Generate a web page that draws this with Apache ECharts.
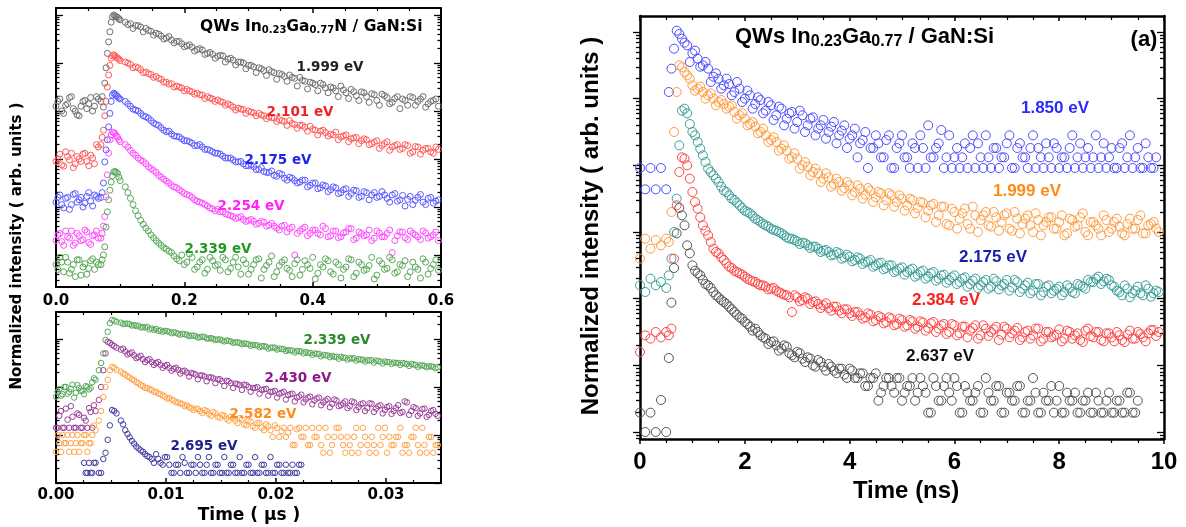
<!DOCTYPE html>
<html><head><meta charset="utf-8">
<script src="https://cdn.jsdelivr.net/npm/echarts@6/dist/echarts.min.js"></script>
<style>html,body{margin:0;padding:0;background:#fff}#c{width:1186px;height:527px}</style>
</head><body><div id="c"></div>
<script>
// ---------- RIGHT PANEL: time (ns) and log10 intensity (decades) ----------
const timeNs = [0,0.1,0.2,0.3,0.4,0.5,0.55,0.6,0.65,0.7,
 0.75,0.8,0.85,0.9,1.0,1.1,1.2,1.3,1.4,1.5,
 1.6,1.7,1.8,1.9,2.0,2.1,2.2,2.3,2.4,2.5,
 2.6,2.7,2.8,2.9,3.0,3.1,3.2,3.3,3.4,3.5,
 3.6,3.7,3.8,3.9,4.0,4.1,4.2,4.3,4.4,4.5,
 4.6,4.7,4.8,4.9,5.0,5.1,5.2,5.3,5.4,5.5,
 5.6,5.7,5.8,5.9,6.0,6.1,6.2,6.3,6.4,6.5,
 6.6,6.7,6.8,6.9,7.0,7.1,7.2,7.3,7.4,7.5,
 7.6,7.7,7.8,7.9,8.0,8.1,8.2,8.3,8.4,8.5,
 8.6,8.7,8.8,8.9,9.0,9.1,9.2,9.3,9.4,9.5,
 9.6,9.7,9.8,9.9];
const timeNsB = [0.95,1.05,1.15,1.25,1.35,1.45,1.55,1.65,1.75,1.85,
 1.95,2.05,2.15,2.25,2.35,2.45,2.55,2.65,2.75,2.85,
 2.95,3.05,3.15,3.25,3.35,3.45,3.55,3.65,3.75,3.85,
 3.95,4.05,4.15,4.25,4.35,4.45,4.55,4.65,4.75,4.85,
 4.95,5.05,5.15,5.25,5.35,5.45,5.55,5.65,5.75,5.85,
 5.95,6.05,6.15,6.25,6.35,6.45,6.55,6.65,6.75,6.85,
 6.95,7.05,7.15,7.25,7.35,7.45,7.55,7.65,7.75,7.85,
 7.95,8.05,8.15,8.25,8.35,8.45,8.55,8.65,8.75,8.85,
 8.95,9.05,9.15,9.25,9.35,9.45,9.55,9.65,9.75,9.85];
const r1850 = [3.96,3.64,3.96,3.64,3.96,3.64,5.1,5.45,5.75,6.02,
 5.97,5.9,5.84,5.8,5.68,5.6,5.5,5.45,5.33,5.3,
 5.2,5.22,5.1,5.15,5.0,5.05,4.92,4.98,4.82,4.9,
 4.75,4.85,4.7,4.8,4.65,4.75,4.6,4.72,4.55,4.68,
 4.5,4.65,4.45,4.6,4.4,4.55,4.33,4.5,4.26,4.45,
 4.12,4.38,3.96,4.26,4.45,4.12,4.33,3.96,4.26,4.6,
 4.12,4.33,3.96,4.45,4.12,3.96,4.33,4.26,3.96,4.12,
 4.45,3.96,4.26,4.12,4.33,3.96,4.26,4.12,3.96,4.45,
 4.26,3.96,4.12,4.33,3.96,4.12,4.26,3.96,4.33,4.12,
 3.96,4.45,4.12,3.96,4.26,3.96,4.33,4.12,3.96,4.26,
 3.96,4.12,3.96,null];
const r1850b = [5.55,5.72,5.48,5.55,5.25,5.38,5.15,5.3,5.05,5.25,
 4.95,5.12,4.85,5.02,4.78,4.95,4.68,4.88,4.6,4.78,
 4.55,4.82,4.5,4.7,4.45,4.6,4.4,4.58,4.33,4.52,
 4.26,4.45,4.12,4.38,3.96,4.26,4.33,4.12,4.45,3.96,
 4.33,4.12,3.96,4.26,4.45,3.96,4.12,4.26,4.53,4.12,
 3.96,4.26,4.12,3.96,4.45,4.33,3.96,4.12,4.26,3.96,
 4.12,4.45,3.96,4.33,4.12,4.26,3.96,4.12,4.33,3.96,
 4.26,4.12,3.96,4.45,4.12,3.96,4.26,4.12,3.96,4.33,
 4.12,3.96,4.26,3.96,4.45,4.12,3.96,4.33,3.96,4.12];
const r1999 = [2.6,2.9,2.75,2.88,2.8,2.9,2.85,3.3,4.5,5.1,
 5.5,5.47,5.4,5.35,5.2,5.15,5.1,5.05,5.0,4.95,
 4.92,4.88,4.8,4.75,4.7,4.62,4.58,4.5,4.45,4.38,
 4.35,4.25,4.22,4.12,4.1,4.0,3.98,3.9,3.88,3.8,
 3.82,3.72,3.75,3.66,3.7,3.6,3.65,3.56,3.62,3.52,
 3.58,3.48,3.55,3.45,3.5,3.4,3.48,3.36,3.44,3.32,
 3.42,3.25,3.38,3.1,3.3,3.2,3.35,3.05,3.25,3.18,
 3.3,3.08,3.22,3.15,3.28,3.02,3.2,3.12,3.25,3.0,
 3.18,3.1,3.22,3.05,3.15,2.95,3.2,3.08,3.22,3.0,
 3.15,3.1,2.95,3.18,3.05,3.2,2.98,3.12,3.05,3.18,
 2.98,3.1,3.15,3.0];
const r1999b = [5.3,5.12,5.18,5.0,5.08,4.9,4.98,4.85,4.9,4.7,
 4.78,4.6,4.65,4.48,4.55,4.35,4.42,4.22,4.3,4.1,
 4.18,3.95,4.05,3.85,3.95,3.75,3.88,3.68,3.8,3.62,
 3.75,3.55,3.7,3.5,3.66,3.45,3.6,3.4,3.58,3.38,
 3.55,3.32,3.5,3.28,3.45,3.22,3.4,3.15,3.38,3.12,
 3.35,3.05,3.28,3.12,3.38,3.0,3.25,3.1,3.3,3.02,
 3.25,3.05,3.3,2.98,3.2,3.1,3.28,2.95,3.15,3.22,
 3.05,3.25,2.98,3.18,3.1,3.28,2.95,3.15,3.05,3.25,
 3.0,3.15,3.08,2.95,3.2,3.05,3.25,2.98,3.12,3.05];
const r2175 = [2.2,2.1,2.3,2.2,2.25,2.16,2.35,2.6,3.0,3.5,
 4.3,4.82,4.85,4.78,4.5,4.35,4.15,3.95,3.85,3.75,
 3.62,3.55,3.48,3.4,3.32,3.28,3.2,3.15,3.1,3.05,
 3.02,2.98,2.92,2.9,2.86,2.84,2.8,2.78,2.75,2.72,
 2.7,2.66,2.68,2.62,2.63,2.58,2.6,2.55,2.58,2.5,
 2.54,2.46,2.5,2.42,2.47,2.4,2.45,2.36,2.42,2.33,
 2.4,2.3,2.36,2.28,2.35,2.25,2.32,2.22,2.3,2.2,
 2.28,2.18,2.26,2.2,2.28,2.17,2.25,2.15,2.24,2.12,
 2.22,2.1,2.2,2.12,2.18,2.1,2.16,2.08,2.2,2.15,
 2.25,2.3,2.22,2.3,2.2,2.12,2.05,2.15,2.08,2.18,
 2.05,2.15,2.08,2.1];
const r2175b = [4.62,4.45,4.25,4.05,3.9,3.8,3.68,3.6,3.5,3.44,
 3.36,3.3,3.24,3.18,3.12,3.08,3.03,3.0,2.95,2.9,
 2.88,2.82,2.83,2.76,2.78,2.7,2.73,2.65,2.7,2.6,
 2.66,2.56,2.62,2.52,2.56,2.48,2.53,2.44,2.5,2.4,
 2.45,2.36,2.43,2.33,2.4,2.3,2.38,2.27,2.35,2.24,
 2.32,2.22,2.3,2.18,2.27,2.16,2.25,2.15,2.3,2.14,
 2.22,2.12,2.28,2.1,2.2,2.08,2.22,2.05,2.18,2.08,
 2.15,2.05,2.2,2.1,2.22,2.18,2.28,2.25,2.33,2.26,
 2.28,2.18,2.1,2.2,2.02,2.12,2.08,2.2,2.03,2.12];
const r2384 = [1.2,1.45,1.4,1.5,1.42,1.5,1.45,1.55,2.6,3.4,
 3.9,4.12,4.1,4.0,3.6,3.35,3.1,2.95,2.75,2.68,
 2.58,2.48,2.42,2.38,2.33,2.28,2.25,2.2,2.18,2.15,
 2.12,2.08,2.05,1.8,2.02,1.98,2.0,1.95,1.92,1.9,
 1.86,1.88,1.82,1.84,1.78,1.8,1.75,1.72,1.76,1.68,
 1.72,1.65,1.7,1.62,1.68,1.6,1.66,1.58,1.64,1.56,
 1.65,1.55,1.62,1.5,1.6,1.48,1.58,1.52,1.6,1.45,
 1.55,1.5,1.58,1.46,1.55,1.48,1.56,1.42,1.52,1.45,
 1.55,1.4,1.5,1.44,1.54,1.4,1.5,1.45,1.38,1.52,
 1.44,1.5,1.38,1.48,1.42,1.5,1.38,1.46,1.4,1.5,
 1.42,1.48,1.53,1.5];
const r2384b = [3.8,3.45,3.22,3.02,2.85,2.7,2.62,2.53,2.46,2.4,
 2.36,2.3,2.26,2.22,2.2,2.14,2.16,2.1,2.06,2.02,
 2.05,1.96,2.02,1.92,1.96,1.86,1.93,1.82,1.88,1.78,
 1.84,1.74,1.8,1.7,1.78,1.66,1.74,1.63,1.72,1.6,
 1.7,1.58,1.68,1.55,1.66,1.52,1.63,1.5,1.6,1.47,
 1.62,1.45,1.58,1.42,1.56,1.4,1.6,1.44,1.54,1.38,
 1.58,1.42,1.52,1.38,1.5,1.4,1.55,1.36,1.5,1.42,
 1.46,1.36,1.52,1.4,1.48,1.35,1.55,1.42,1.5,1.36,
 1.48,1.36,1.45,1.35,1.52,1.4,1.47,1.36,1.53,1.44];
const r2637 = [0.29,0,0.29,0,0.48,0,1.11,1.94,2.46,2.98,
 3.36,3.25,3.1,2.8,2.5,2.38,2.28,2.2,2.1,2.02,
 1.95,1.88,1.8,1.72,1.65,1.58,1.55,1.45,1.4,1.35,
 1.3,1.25,1.28,1.15,1.2,1.1,1.12,1.0,1.08,0.98,
 1.02,0.92,0.95,0.86,0.95,0.81,0.88,0.69,0.81,0.88,
 0.59,0.81,0.69,0.81,0.47,0.69,0.81,0.59,0.69,0.29,
 0.81,0.47,0.69,0.59,0.81,0.29,0.69,0.47,0.59,0.29,
 0.81,0.47,0.69,0.29,0.59,0.47,0.69,0.29,0.47,0.81,
 0.29,0.59,0.47,0.29,0.69,0.29,0.47,0.59,0.29,0.47,
 0.29,0.59,0.29,0.47,0.29,0.47,0.29,0.59,0.29,0.47,
 null,null,null,null];
const r2637b = [2.68,2.42,2.35,2.22,2.16,2.05,1.98,1.92,1.84,1.76,
 1.7,1.62,1.52,1.5,1.42,1.32,1.36,1.22,1.3,1.18,
 1.12,1.18,1.05,1.1,0.98,1.05,0.92,0.98,0.88,0.95,
 0.81,0.92,0.81,0.88,0.69,0.81,0.47,0.69,0.81,0.59,
 0.81,0.59,0.69,0.47,0.81,0.59,0.29,0.69,0.47,0.81,
 0.47,0.69,0.29,0.59,0.47,0.69,0.29,0.59,0.47,0.69,
 0.29,0.59,0.47,0.69,0.29,0.47,0.59,0.29,0.47,0.69,
 0.47,0.29,0.59,0.47,0.29,0.47,0.59,0.29,0.47,0.29,
 0.59,0.29,0.47,0.29,0.59,0.29];

// ---------- TOP-LEFT PANEL: time (µs) ----------
const timeUsTop = [0,0.006,0.012,0.018,0.024,0.03,0.036,0.042,0.048,0.054,
 0.06,0.066,0.07,0.072,0.074,0.076,0.078,0.08,0.082,0.084,
 0.086,0.088,0.09,0.092,0.094,0.096,0.098,0.1,0.108,0.116,
 0.124,0.132,0.14,0.148,0.156,0.164,0.172,0.18,0.188,0.196,
 0.204,0.212,0.22,0.228,0.236,0.244,0.252,0.26,0.268,0.276,
 0.284,0.292,0.3,0.308,0.316,0.324,0.332,0.34,0.348,0.356,
 0.364,0.372,0.38,0.388,0.396,0.404,0.412,0.42,0.428,0.436,
 0.444,0.452,0.46,0.468,0.476,0.484,0.492,0.5,0.508,0.516,
 0.524,0.532,0.54,0.548,0.556,0.564,0.572,0.58,0.588,0.596];
const timeUsTopB = [0.003,0.009,0.015,0.021,0.027,0.033,0.039,0.045,0.051,0.057,0.063,
 0.112,0.12,0.128,0.136,0.144,0.152,0.16,0.168,0.176,0.184,
 0.192,0.2,0.208,0.216,0.224,0.232,0.24,0.248,0.256,0.264,
 0.272,0.28,0.288,0.296,0.304,0.312,0.32,0.328,0.336,0.344,
 0.352,0.36,0.368,0.376,0.384,0.392,0.4,0.408,0.416,0.424,
 0.432,0.44,0.448,0.456,0.464,0.472,0.48,0.488,0.496,0.504,
 0.512,0.52,0.528,0.536,0.544,0.552,0.56,0.568,0.576,0.584,
 0.592];
const t1999 = [3.1,3.25,2.95,3.15,3.3,3.0,2.9,3.2,3.05,3.28,3.1,3.25,
 3.2,3.3,3.08,3.58,3.9,4.2,4.44,4.65,4.85,4.96,5.0,4.98,4.96,4.95,4.92,4.9,
 4.85,4.82,4.78,4.75,4.72,4.66,4.62,4.56,4.52,4.48,
 4.45,4.4,4.36,4.33,4.28,4.27,4.2,4.18,4.14,4.15,
 4.08,4.06,4.02,4.0,3.95,3.92,3.9,3.84,3.86,3.8,
 3.78,3.72,3.75,3.68,3.7,3.62,3.6,3.55,3.58,3.48,
 3.5,3.42,3.52,3.38,3.45,3.32,3.4,3.3,3.36,3.22,
 3.35,3.28,3.18,3.3,3.25,3.12,3.28,3.2,3.3,3.15,
 3.22,3.1];
const t1999b = [3.2,3.0,3.12,3.28,3.05,2.92,3.1,3.22,3.15,3.0,3.3,
 4.8,4.72,4.78,4.65,4.68,4.58,4.6,4.5,4.55,4.42,
 4.45,4.34,4.38,4.25,4.3,4.18,4.22,4.1,4.16,4.02,
 4.1,3.96,4.02,3.88,3.95,3.8,3.88,3.74,3.82,3.66,
 3.76,3.62,3.7,3.52,3.64,3.46,3.58,3.42,3.55,3.38,
 3.48,3.3,3.44,3.26,3.4,3.22,3.38,3.18,3.34,3.12,
 3.32,3.15,3.26,3.05,3.22,3.3,3.12,3.25,3.08,3.2,
 3.25];
const t2101 = [1.95,2.1,1.85,2.05,2.12,1.9,2.0,2.1,1.95,2.08,1.9,2.25,
 2.3,2.45,2.6,2.9,3.2,3.5,3.75,3.95,4.1,4.15,4.17,4.15,4.12,4.1,4.08,4.05,
 4.02,3.97,3.92,3.86,3.81,3.76,3.72,3.66,3.6,3.57,
 3.52,3.48,3.45,3.4,3.37,3.33,3.3,3.25,3.23,3.18,
 3.15,3.08,3.06,3.03,3.0,2.96,2.95,2.9,2.88,2.85,
 2.82,2.78,2.8,2.72,2.7,2.66,2.68,2.6,2.58,2.55,
 2.52,2.56,2.46,2.5,2.42,2.45,2.38,2.4,2.32,2.38,
 2.28,2.36,2.25,2.3,2.22,2.28,2.15,2.25,2.18,2.22,
 2.12,2.2];
const t2101b = [2.0,1.88,2.15,1.98,1.82,2.05,1.95,2.12,1.86,2.02,2.3,
 4.0,3.9,3.9,3.8,3.78,3.7,3.68,3.6,3.56,3.5,
 3.5,3.42,3.42,3.35,3.34,3.26,3.27,3.2,3.2,3.12,
 3.12,3.02,3.04,2.95,2.98,2.9,2.92,2.84,2.86,2.78,
 2.8,2.7,2.74,2.64,2.7,2.58,2.62,2.5,2.6,2.48,
 2.5,2.4,2.48,2.36,2.44,2.32,2.42,2.3,2.35,2.22,
 2.32,2.18,2.28,2.2,2.3,2.12,2.26,2.1,2.22,2.15,
 2.25];
const t2175 = [1.1,1.25,0.98,1.2,1.05,1.28,1.15,1.0,1.22,1.12,1.25,1.18,
 1.2,1.3,1.5,1.94,2.19,2.4,2.67,2.95,3.2,3.33,3.37,3.35,3.32,3.3,3.27,3.25,
 3.2,3.1,3.02,2.95,2.88,2.8,2.72,2.65,2.57,2.52,
 2.47,2.42,2.38,2.33,2.28,2.25,2.2,2.15,2.12,2.06,
 2.02,1.98,1.94,1.9,1.86,1.84,1.78,1.74,1.72,1.66,
 1.7,1.6,1.62,1.55,1.52,1.56,1.45,1.5,1.4,1.44,
 1.36,1.4,1.3,1.38,1.28,1.34,1.22,1.3,1.25,1.2,
 1.32,1.18,1.25,1.12,1.24,1.16,1.05,1.2,1.1,1.18,
 1.08,1.15];
const t2175b = [1.2,1.05,1.18,0.95,1.26,1.1,1.2,1.08,1.3,1.02,1.22,
 3.15,3.04,3.0,2.9,2.85,2.75,2.7,2.6,2.58,2.48,
 2.46,2.38,2.36,2.28,2.3,2.2,2.18,2.12,2.1,2.02,
 2.02,1.94,1.95,1.86,1.88,1.78,1.82,1.72,1.75,1.64,
 1.68,1.56,1.6,1.5,1.56,1.42,1.5,1.38,1.46,1.32,
 1.42,1.28,1.36,1.22,1.35,1.2,1.32,1.15,1.3,1.22,
 1.25,1.1,1.28,1.15,1.02,1.22,1.14,1.26,1.05,1.2,
 1.12];
const t2254 = [0.3,0.45,0.2,0.38,0.5,0.25,0.4,0.32,0.48,0.22,0.42,0.35,
 0.35,0.45,0.6,0.8,1.21,1.67,2.12,2.4,2.5,2.56,2.55,2.53,2.48,2.45,2.4,2.36,
 2.3,2.18,2.08,1.98,1.9,1.8,1.72,1.62,1.54,1.45,
 1.4,1.32,1.26,1.2,1.12,1.08,1.02,0.96,0.95,0.9,
 0.84,0.8,0.78,0.74,0.72,0.7,0.66,0.68,0.62,0.6,
 0.52,0.62,0.55,0.0,0.5,0.58,0.45,0.52,0.42,0.55,
 0.4,0.5,0.38,0.48,0.55,0.35,0.45,0.42,0.3,0.5,
 0.38,0.45,0.05,0.4,0.48,0.32,0.45,0.38,0.5,0.35,
 0.42,0.3];
const t2254b = [0.42,0.28,0.5,0.35,0.2,0.45,0.3,0.52,0.26,0.4,0.5,
 2.25,2.12,2.02,1.95,1.84,1.76,1.66,1.58,1.5,1.42,
 1.36,1.28,1.24,1.15,1.1,1.05,0.98,0.92,0.9,0.86,
 0.82,0.76,0.8,0.7,0.74,0.64,0.7,0.6,0.66,0.56,
 0.6,0.48,0.58,0.45,0.55,0.4,0.52,0.45,0.6,0.38,
 0.5,0.36,0.46,0.55,0.32,0.48,0.4,0.52,0.35,0.46,
 0.38,0.52,0.3,0.48,0.36,0.5,0.42,0.32,0.46,0.38,
 0.48];
const t2339 = [-0.2,-0.05,-0.35,-0.15,-0.3,-0.45,-0.1,-0.25,-0.4,-0.12,-0.3,-0.2,
 -0.2,-0.1,0.0,0.17,0.58,0.9,1.15,1.35,1.52,1.65,1.73,1.74,1.72,1.7,1.62,1.55,
 1.42,1.18,0.92,0.72,0.56,0.42,0.3,0.2,0.12,0.05,
 -0.08,0.0,-0.15,-0.05,-0.25,-0.1,-0.3,-0.12,-0.2,-0.05,
 -0.35,-0.15,-0.25,-0.1,-0.4,-0.2,-0.08,-0.3,-0.15,-0.45,
 -0.22,-0.1,-0.32,-0.18,-0.42,-0.12,-0.28,-0.5,-0.2,-0.08,
 -0.35,-0.15,-0.48,-0.25,-0.1,-0.38,-0.2,-0.3,-0.05,-0.42,
 -0.18,-0.28,-0.1,-0.35,-0.22,-0.45,-0.15,-0.3,-0.08,-0.4,
 -0.2,-0.32];
const t2339b = [-0.3,-0.15,-0.05,-0.38,-0.2,-0.1,-0.42,-0.18,-0.28,-0.08,-0.15,
 1.3,1.05,0.82,0.64,0.5,0.36,0.25,0.15,0.08,-0.02,
 -0.12,-0.2,0.02,-0.3,-0.15,-0.38,-0.05,-0.22,-0.32,-0.1,
 -0.28,-0.05,-0.4,-0.18,-0.3,-0.1,-0.48,-0.22,-0.02,-0.35,
 -0.15,-0.28,-0.45,-0.1,-0.3,-0.2,-0.05,-0.38,-0.25,-0.12,
 -0.4,-0.2,-0.3,-0.08,-0.45,-0.15,-0.32,-0.22,-0.5,-0.12,
 -0.3,-0.05,-0.38,-0.2,-0.12,-0.35,-0.25,-0.48,-0.15,-0.28,
 -0.1];

// ---------- BOTTOM-LEFT PANEL: time (µs) ----------
const timeUsBottom = [0,0.0003,0.0006,0.0009,0.0012,0.0015,0.0018,0.0021,0.0024,0.0027,
 0.003,0.0033,0.0036,0.0039,0.0041,0.0043,0.0045,0.0047,0.0049,0.0051,
 0.0053,0.0055,0.0059,0.0063,0.0067,0.0071,0.0075,0.0079,0.0083,0.0087,
 0.0091,0.0095,0.0099,0.0103,0.0107,0.0111,0.0115,0.0119,0.0123,0.0127,
 0.0131,0.0135,0.0139,0.0143,0.0147,0.0151,0.0155,0.0159,0.0163,0.0167,
 0.0171,0.0175,0.0179,0.0183,0.0187,0.0191,0.0195,0.0199,0.0203,0.0207,
 0.0211,0.0215,0.0219,0.0223,0.0227,0.0231,0.0235,0.0239,0.0243,0.0247,
 0.0251,0.0255,0.0259,0.0263,0.0267,0.0271,0.0275,0.0279,0.0283,0.0287,
 0.0291,0.0295,0.0299,0.0303,0.0307,0.0311,0.0315,0.0319,0.0323,0.0327,
 0.0331,0.0335,0.0339,0.0343,0.0347];
const timeUsBottomB = [0.00015,0.00045,0.00075,0.00105,0.00135,0.00165,0.00195,0.00225,0.00255,0.00285,0.00315,0.00345,
 0.0061,0.0065,0.0069,0.0073,0.0077,0.0081,0.0085,0.0089,0.0093,0.0097,
 0.0101,0.0105,0.0109,0.0113,0.0117,0.0121,0.0125,0.0129,0.0133,0.0137,
 0.0141,0.0145,0.0149,0.0153,0.0157,0.0161,0.0165,0.0169,0.0173,0.0177,
 0.0181,0.0185,0.0189,0.0193,0.0197,0.0201,0.0205,0.0209,0.0213,0.0217,
 0.0221,0.0225,0.0229,0.0233,0.0237,0.0241,0.0245,0.0249,0.0253,0.0257,
 0.0261,0.0265,0.0269,0.0273,0.0277,0.0281,0.0285,0.0289,0.0293,0.0297,
 0.0301,0.0305,0.0309,0.0313,0.0317,0.0321,0.0325,0.0329,0.0333,0.0337,
 0.0341,0.0345];
const b2339 = [1.8,1.95,1.85,2.0,1.9,2.05,1.88,1.98,1.92,2.02,1.95,2.1,2.15,2.35,
 2.5,2.7,2.98,3.15,3.33,3.4,3.38,3.36,
 3.34,3.32,3.31,3.29,3.28,3.25,3.25,3.22,
 3.21,3.18,3.17,3.15,3.14,3.11,3.11,3.09,3.07,3.06,
 3.04,3.04,3.01,3.0,2.99,2.97,2.97,2.95,2.93,2.92,
 2.91,2.89,2.88,2.87,2.85,2.84,2.82,2.82,2.8,2.79,
 2.77,2.76,2.75,2.74,2.73,2.71,2.7,2.69,2.67,2.66,
 2.65,2.63,2.63,2.61,2.6,2.6,2.58,2.57,2.56,2.56,
 2.55,2.53,2.53,2.52,2.51,2.5,2.5,2.48,2.48,2.46,
 2.45,2.44,2.43,2.42,2.41];
const b2339b = [1.9,1.82,2.0,1.86,1.96,1.78,2.04,1.92,1.85,2.0,1.98,2.18,
 3.31,3.32,3.28,3.27,3.24,3.24,3.2,3.19,3.17,3.15,
 3.16,3.12,3.13,3.09,3.1,3.06,3.07,3.03,3.05,3.01,
 3.02,2.98,2.99,2.95,2.96,2.92,2.93,2.89,2.9,2.86,
 2.87,2.83,2.85,2.8,2.82,2.78,2.79,2.75,2.76,2.72,
 2.74,2.7,2.71,2.67,2.69,2.64,2.66,2.62,2.63,2.59,
 2.61,2.57,2.59,2.55,2.57,2.53,2.55,2.51,2.54,2.49,
 2.52,2.48,2.5,2.46,2.49,2.44,2.47,2.42,2.45,2.41,
 2.43,2.39];
const b2430 = [1.15,1.4,1.15,1.55,1.15,1.38,1.15,1.42,1.15,1.3,1.56,1.15,1.5,1.73,
 2.0,2.35,2.7,2.94,2.92,2.88,2.85,2.82,
 2.78,2.74,2.7,2.66,2.62,2.58,2.56,2.52,
 2.5,2.46,2.44,2.4,2.38,2.36,2.33,2.3,2.29,2.26,
 2.24,2.22,2.2,2.18,2.16,2.12,2.13,2.08,2.07,2.04,
 2.05,2.0,1.98,2.0,1.94,1.96,1.9,1.92,1.86,1.9,
 1.83,1.86,1.78,1.84,1.74,1.8,1.72,1.78,1.68,1.75,
 1.65,1.72,1.62,1.7,1.6,1.68,1.58,1.66,1.56,1.65,
 1.55,1.62,1.52,1.6,1.5,1.62,1.48,1.68,1.5,1.56,
 1.45,1.55,1.42,1.52,1.4];
const b2430b = [1.15,1.5,1.15,1.32,1.6,1.15,1.45,1.15,1.36,1.15,1.48,1.62,
 2.8,2.68,2.72,2.6,2.65,2.52,2.58,2.46,2.52,2.4,
 2.46,2.34,2.4,2.28,2.34,2.22,2.28,2.16,2.24,2.12,
 2.2,2.08,2.16,2.02,2.12,1.98,2.06,1.94,2.04,1.9,
 1.98,1.86,1.95,1.82,1.9,1.78,1.88,1.74,1.85,1.7,
 1.8,1.68,1.78,1.64,1.76,1.62,1.72,1.58,1.74,1.6,
 1.66,1.56,1.7,1.52,1.64,1.5,1.66,1.48,1.6,1.45,
 1.58,1.44,1.56,1.46,1.7,1.42,1.58,1.4,1.54,1.38,
 1.5,1.44];
const b2582 = [0.65,0.83,1.0,0.83,0.65,1.0,0.83,0.65,0.83,1.0,0.83,1.0,1.1,1.3,
 1.5,1.79,2.0,2.15,2.35,2.42,2.4,2.36,
 2.32,2.26,2.2,2.14,2.08,2.02,1.98,1.94,
 1.9,1.85,1.8,1.77,1.72,1.68,1.64,1.62,1.56,1.55,
 1.5,1.52,1.44,1.48,1.38,1.42,1.34,1.38,1.3,1.35,
 1.22,1.3,1.18,1.25,1.15,1.22,1.1,1.2,0.96,1.15,
 1.05,0.79,1.12,0.96,1.15,0.79,0.96,1.15,0.63,0.96,
 0.79,1.15,0.96,0.63,0.79,0.96,0.63,1.15,0.79,0.96,
 0.63,0.79,1.15,0.96,0.79,0.96,0.63,0.79,0.96,1.15,
 0.63,0.79,0.96,0.63,0.79];
const b2582b = [1.0,0.65,0.83,1.0,0.83,0.65,1.0,0.83,1.0,0.65,0.83,1.2,
 2.28,2.22,2.16,2.1,2.04,1.98,1.95,1.9,1.86,1.82,
 1.76,1.74,1.68,1.66,1.6,1.58,1.52,1.54,1.46,1.5,
 1.4,1.45,1.36,1.4,1.3,1.36,1.25,1.32,1.2,1.28,
 1.15,1.25,1.1,1.18,0.96,1.15,1.08,0.96,1.15,0.79,
 1.15,0.96,0.79,1.15,0.96,0.79,1.15,0.63,0.96,1.15,
 0.79,0.96,0.63,1.15,0.79,0.96,0.63,0.79,1.15,0.96,
 0.63,0.79,0.96,1.15,0.79,0.63,0.96,0.79,1.15,0.63,
 0.96,0.79];
const b2695 = [null,null,null,null,null,null,null,null,null,0.21,0.42,0.21,0.42,0.21,
 0.21,0.5,0.63,0.9,1.2,1.52,1.5,1.45,
 1.3,1.1,0.95,0.82,0.72,0.65,0.56,0.5,
 0.6,0.42,0.54,0.38,0.21,0.38,0.54,0.21,0.38,0.21,
 0.38,0.21,0.54,0.21,0.38,0.21,0.21,0.38,0.21,0.54,
 0.21,0.38,0.21,0.21,0.38,0.21,0.54,0.21,0.38,0.21,
 0.21,0.38,0.21,0.38];
const b2695b = [null,null,null,null,null,null,null,null,0.42,0.21,0.21,0.42,
 1.22,1.02,0.88,0.76,0.68,0.6,0.54,0.42,0.5,0.38,
 0.54,0.21,0.38,0.21,0.42,0.21,0.38,0.54,0.21,0.38,
 0.21,0.38,0.21,0.54,0.21,0.38,0.21,0.21,0.38,0.21,
 0.54,0.21,0.38,0.21,0.21,0.38,0.21,0.38,0.21,0.21,
 0.38];

// ---------- labels ----------
const energyRight = ['1.850 eV','1.999 eV','2.175 eV','2.384 eV','2.637 eV'];
const energyTop = ['1.999 eV','2.101 eV','2.175 eV','2.254 eV','2.339 eV'];
const energyBottom = ['2.339 eV','2.430 eV','2.582 eV','2.695 eV'];

// ================= build =================
const chart = echarts.init(document.getElementById('c'), null, {renderer: 'canvas'});
function pairs(times, vals) {
  const out = [];
  for (let i = 0; i < times.length && i < vals.length; i++) {
    if (vals[i] !== null && vals[i] !== undefined) out.push([times[i], vals[i]]);
  }
  return out;
}
function logMinor(lo, hi) {
  const a = [];
  for (let n = Math.floor(lo) - 1; n <= Math.ceil(hi); n++)
    for (let k = 2; k <= 9; k++) { const v = n + Math.log10(k); if (v > lo && v < hi) a.push(v); }
  return a;
}
function majors(lo, hi) { const a = []; for (let n = Math.ceil(lo); n <= Math.floor(hi); n++) a.push(n); return a; }

const LF = 'DejaVu Sans', RF = 'Liberation Sans, Arial, sans-serif';
const grids = [
  {left: 56, top: 8, width: 385, height: 279},
  {left: 56, top: 312, width: 385, height: 171},
  {left: 640, top: 16, width: 524, height: 423}
];
const yr = [[-0.667, 5.146], [0, 3.5625], [-0.105, 6.24]];
const xAxes = [], yAxes = [];
function xAx(g, min, max, interval, split, pos, inside, label, len, mlen, lw) {
  xAxes.push({type: 'value', gridIndex: g, position: pos, min, max, interval,
    axisLine: {show: true, onZero: false, lineStyle: {color: '#000', width: lw}},
    axisTick: {show: true, inside, length: len, lineStyle: {color: '#000', width: 1.5}},
    minorTick: {show: true, splitNumber: split, length: mlen, lineStyle: {color: '#000', width: 1.2}},
    splitLine: {show: false}, minorSplitLine: {show: false},
    axisLabel: label || {show: false}});
  return xAxes.length - 1;
}
function yAx(g, pos, inside, values, len, line, lw) {
  yAxes.push({type: 'value', gridIndex: g, position: pos, min: yr[g][0], max: yr[g][1],
    axisLine: {show: line, onZero: false, lineStyle: {color: '#000', width: lw}},
    axisTick: {show: true, inside, length: len, customValues: values, lineStyle: {color: '#000', width: 1.3}},
    axisLabel: {show: false}, splitLine: {show: false}});
  return yAxes.length - 1;
}
// top-left
const xTL = xAx(0, 0, 0.6, 0.2, 4, 'bottom', true,
  {show: true, margin: 7, fontFamily: LF, fontWeight: 'bold', fontSize: 15, color: '#000', formatter: v => v.toFixed(1)}, 5, 3, 2);
xAx(0, 0, 0.6, 0.2, 4, 'top', true, null, 5, 3, 2);
const yTL = yAx(0, 'left', true, majors(yr[0][0], yr[0][1]), 7, true, 2);
yAx(0, 'left', true, logMinor(yr[0][0], yr[0][1]), 3.5, false, 2);
yAx(0, 'right', true, majors(yr[0][0], yr[0][1]), 7, true, 2);
yAx(0, 'right', true, logMinor(yr[0][0], yr[0][1]), 3.5, false, 2);
// bottom-left
const xBL = xAx(1, 0, 0.035, 0.01, 4, 'bottom', true,
  {show: true, margin: 5, fontFamily: LF, fontWeight: 'bold', fontSize: 15, color: '#000',
   formatter: v => (Math.abs(v * 100 - Math.round(v * 100)) < 1e-6 ? v.toFixed(2) : '')}, 5, 3, 2);
xAx(1, 0, 0.035, 0.01, 4, 'top', true, null, 5, 3, 2);
const yBL = yAx(1, 'left', true, majors(yr[1][0], yr[1][1]), 7, true, 2);
yAx(1, 'left', true, logMinor(yr[1][0], yr[1][1]), 3.5, false, 2);
yAx(1, 'right', true, majors(yr[1][0], yr[1][1]), 7, true, 2);
yAx(1, 'right', true, logMinor(yr[1][0], yr[1][1]), 3.5, false, 2);
// right
const xR = xAx(2, 0, 10, 2, 4, 'bottom', false,
  {show: true, margin: 11, fontFamily: RF, fontWeight: 'bold', fontSize: 24, color: '#000'}, 5, 4, 2.5);
xAx(2, 0, 10, 2, 4, 'top', true, null, 5, 4, 2.5);
const yR = yAx(2, 'left', false, majors(yr[2][0], yr[2][1]), 7, true, 2.5);
yAx(2, 'left', false, logMinor(yr[2][0], yr[2][1]), 4, false, 2.5);
yAx(2, 'right', true, majors(yr[2][0], yr[2][1]), 7, true, 2.5);
yAx(2, 'right', true, logMinor(yr[2][0], yr[2][1]), 4, false, 2.5);

function sc(name, xi, yi, tA, vA, tB, vB, color, size) {
  return {type: 'scatter', name, xAxisIndex: xi, yAxisIndex: yi, data: pairs(tA, vA).concat(pairs(tB, vB)),
    symbol: 'circle', symbolSize: size, silent: true, animation: false, large: false,
    itemStyle: {color: 'rgba(0,0,0,0)', borderColor: color, borderWidth: 1, opacity: 1}};
}
const series = [
  sc('TL ' + energyTop[0], xTL, yTL, timeUsTop, t1999, timeUsTopB, t1999b, '#707070', 6),
  sc('TL ' + energyTop[1], xTL, yTL, timeUsTop, t2101, timeUsTopB, t2101b, '#ff5a5a', 6),
  sc('TL ' + energyTop[2], xTL, yTL, timeUsTop, t2175, timeUsTopB, t2175b, '#5a5aff', 6),
  sc('TL ' + energyTop[3], xTL, yTL, timeUsTop, t2254, timeUsTopB, t2254b, '#ff4cff', 6),
  sc('TL ' + energyTop[4], xTL, yTL, timeUsTop, t2339, timeUsTopB, t2339b, '#5aa85a', 6),
  sc('BL ' + energyBottom[0], xBL, yBL, timeUsBottom, b2339, timeUsBottomB, b2339b, '#5aa85a', 5.5),
  sc('BL ' + energyBottom[1], xBL, yBL, timeUsBottom, b2430, timeUsBottomB, b2430b, '#9a3f9a', 5.5),
  sc('BL ' + energyBottom[2], xBL, yBL, timeUsBottom, b2582, timeUsBottomB, b2582b, '#ffa448', 5.5),
  sc('BL ' + energyBottom[3], xBL, yBL, timeUsBottom, b2695, timeUsBottomB, b2695b, '#4040a0', 5.5),
  sc('R ' + energyRight[0], xR, yR, timeNs, r1850, timeNsB, r1850b, '#4d4dff', 9),
  sc('R ' + energyRight[1], xR, yR, timeNs, r1999, timeNsB, r1999b, '#ff9b3d', 9),
  sc('R ' + energyRight[2], xR, yR, timeNs, r2175, timeNsB, r2175b, '#3a9e97', 9),
  sc('R ' + energyRight[3], xR, yR, timeNs, r2384, timeNsB, r2384b, '#ff4646', 9),
  sc('R ' + energyRight[4], xR, yR, timeNs, r2637, timeNsB, r2637b, '#555555', 9)
];

function txt(x, y, text, color, size, family, rot) {
  return {type: 'text', x, y, rotation: rot || 0, silent: true, z: 100,
    style: {text, fill: color, fontSize: size, fontWeight: 'bold', fontFamily: family, align: 'center', verticalAlign: 'middle'}};
}
const graphic = [
  {type: 'text', x: 735, y: 26, silent: true, z: 100, style: {
    text: '{n|QWs In}{s|0.23}{n|Ga}{s|0.77}{n| / GaN:Si}', align: 'left', verticalAlign: 'top',
    rich: {n: {fontSize: 22, fontWeight: 'bold', fontFamily: RF, lineHeight: 24, verticalAlign: 'top', fill: '#000'},
           s: {fontSize: 16, fontWeight: 'bold', fontFamily: RF, lineHeight: 17, padding: [12, 0, 0, 0], verticalAlign: 'bottom', fill: '#000'}}}},
  txt(1144, 40, '(a)', '#000', 22, RF),
  txt(1055, 108, energyRight[0], '#2a2aff', 17, RF),
  txt(1027, 191, energyRight[1], '#ff8a14', 17, RF),
  txt(993, 257, energyRight[2], '#1c1caa', 17, RF),
  txt(946, 300, energyRight[3], '#ff1e1e', 17, RF),
  txt(940, 356, energyRight[4], '#111111', 17, RF),
  txt(591, 226, 'Normalized intensity ( arb. units )', '#000', 24, RF, Math.PI / 2),
  txt(906, 491, 'Time (ns)', '#000', 24, RF),
  {type: 'text', x: 200, y: 19, silent: true, z: 100, style: {
    text: '{n|QWs In}{s|0.23}{n|Ga}{s|0.77}{n|N / GaN:Si}', align: 'left', verticalAlign: 'top',
    rich: {n: {fontSize: 15.5, fontWeight: 'bold', fontFamily: LF, lineHeight: 16, verticalAlign: 'top', fill: '#000'},
           s: {fontSize: 10, fontWeight: 'bold', fontFamily: LF, lineHeight: 11, padding: [8, 0, 0, 0], verticalAlign: 'bottom', fill: '#000'}}}},
  txt(330, 67, energyTop[0], '#222222', 13.5, LF),
  txt(300, 112, energyTop[1], '#ee2222', 13.5, LF),
  txt(278, 160, energyTop[2], '#2222ee', 13.5, LF),
  txt(251, 206, energyTop[3], '#ff22ff', 13.5, LF),
  txt(218, 249, energyTop[4], '#229922', 13.5, LF),
  txt(337, 340, energyBottom[0], '#2a8a2a', 13.5, LF),
  txt(298, 378, energyBottom[1], '#8b1a8b', 13.5, LF),
  txt(263, 414, energyBottom[2], '#ff8c1a', 13.5, LF),
  txt(204, 446, energyBottom[3], '#22228c', 13.5, LF),
  txt(17, 246, 'Normalized intensity ( arb. units )', '#000', 15, LF, Math.PI / 2),
  txt(249, 516, 'Time ( µs )', '#000', 17, LF)
];

chart.setOption({
  animation: false,
  backgroundColor: '#fff',
  grid: grids,
  xAxis: xAxes,
  yAxis: yAxes,
  series,
  graphic
});
</script></body></html>
